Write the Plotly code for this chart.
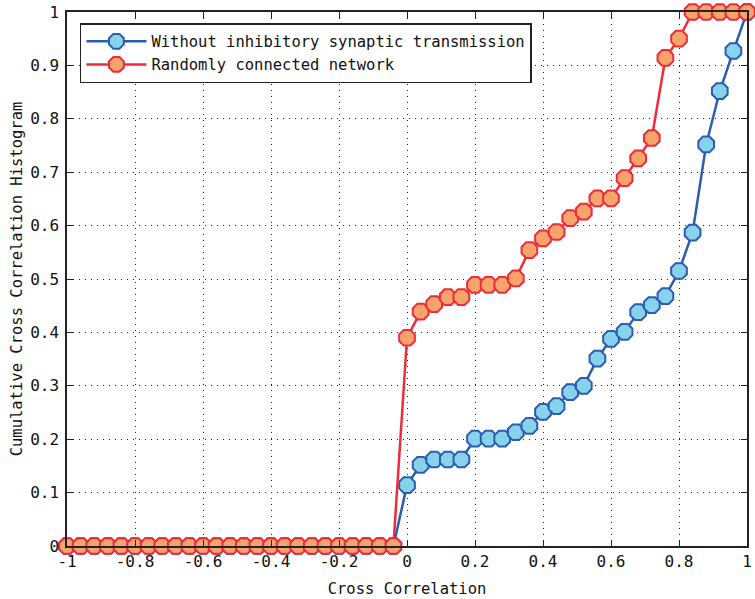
import plotly.graph_objects as go

# Bin positions (cross correlation)
cross_corr = [-1.0, -0.96, -0.92, -0.88, -0.84, -0.8, -0.76, -0.72, -0.68, -0.64,
              -0.6, -0.56, -0.52, -0.48, -0.44, -0.4, -0.36, -0.32, -0.28, -0.24,
              -0.2, -0.16, -0.12, -0.08, -0.04,
              0.0, 0.04, 0.08, 0.12, 0.16, 0.2, 0.24, 0.28, 0.32, 0.36,
              0.4, 0.44, 0.48, 0.52, 0.56, 0.6, 0.64, 0.68, 0.72, 0.76,
              0.8, 0.84, 0.88, 0.92, 0.96, 1.0]

without_inhibitory = [0, 0, 0, 0, 0, 0, 0, 0, 0, 0,
                      0, 0, 0, 0, 0, 0, 0, 0, 0, 0,
                      0, 0, 0, 0, 0,
                      0.114, 0.152, 0.162, 0.162, 0.162, 0.201, 0.201, 0.201, 0.213, 0.225,
                      0.251, 0.262, 0.288, 0.300, 0.351, 0.388, 0.401, 0.438, 0.451, 0.468,
                      0.515, 0.587, 0.752, 0.852, 0.927, 1.0]

randomly_connected = [0, 0, 0, 0, 0, 0, 0, 0, 0, 0,
                      0, 0, 0, 0, 0, 0, 0, 0, 0, 0,
                      0, 0, 0, 0, 0,
                      0.390, 0.439, 0.453, 0.466, 0.466, 0.489, 0.489, 0.489, 0.501, 0.554,
                      0.576, 0.588, 0.614, 0.626, 0.651, 0.651, 0.689, 0.726, 0.764, 0.914,
                      0.950, 1.0, 1.0, 1.0, 1.0, 1.0]

series_names = ["Without inhibitory synaptic transmission", "Randomly connected network"]

x_tick_vals = [-1, -0.8, -0.6, -0.4, -0.2, 0, 0.2, 0.4, 0.6, 0.8, 1]
x_tick_text = ["-1", "-0.8", "-0.6", "-0.4", "-0.2", "0", "0.2", "0.4", "0.6", "0.8", "1"]
y_tick_vals = [0, 0.1, 0.2, 0.3, 0.4, 0.5, 0.6, 0.7, 0.8, 0.9, 1]
y_tick_text = ["0", "0.1", "0.2", "0.3", "0.4", "0.5", "0.6", "0.7", "0.8", "0.9", "1"]

FONT = "DejaVu Sans Mono"

fig = go.Figure()
fig.add_trace(go.Scatter(
    x=cross_corr, y=without_inhibitory, name=series_names[0],
    mode="lines+markers", cliponaxis=False,
    line=dict(color="#2a5db0", width=2.5),
    marker=dict(symbol="octagon", size=17, color="#88d3ec",
                line=dict(color="#2a5db0", width=2)),
))
fig.add_trace(go.Scatter(
    x=cross_corr, y=randomly_connected, name=series_names[1],
    mode="lines+markers", cliponaxis=False,
    line=dict(color="#ef2b3a", width=2.5),
    marker=dict(symbol="octagon", size=17, color="#f6a46c",
                line=dict(color="#ef2b3a", width=2)),
))

axis_common = dict(
    showline=True, linecolor="#222", linewidth=1.5, mirror="ticks",
    ticks="inside", ticklen=6, tickcolor="#222", tickwidth=1,
    showgrid=True, gridcolor="#222", gridwidth=1, griddash="1px,5px",
    zeroline=False, automargin=False,
    tickfont=dict(family=FONT, size=16, color="#111"),
)

fig.update_xaxes(
    range=[-1, 1], tickvals=x_tick_vals, ticktext=x_tick_text,
    title=dict(text="Cross Correlation", font=dict(family=FONT, size=15.5, color="#111"), standoff=13),
    **axis_common,
)
fig.update_yaxes(
    range=[0, 1], tickvals=y_tick_vals, ticktext=y_tick_text,
    ticklabelstandoff=3,
    title=dict(text="Cumulative Cross Correlation Histogram", font=dict(family=FONT, size=15.5, color="#111"), standoff=4),
    **axis_common,
)

fig.update_layout(
    width=755, height=599,
    margin=dict(l=67, r=8, t=12, b=53),
    plot_bgcolor="white", paper_bgcolor="white",
    legend=dict(
        x=0.019, y=0.979, xanchor="left", yanchor="top",
        bgcolor="white", bordercolor="#222", borderwidth=1.5,
        font=dict(family=FONT, size=15.5, color="#111"),
        itemwidth=60, tracegroupgap=0,
    ),
)

fig.write_html(
    "out.html",
    config={"displayModeBar": False},
    post_script="document.body.style.margin='0px';document.body.style.overflow='hidden';",
)
